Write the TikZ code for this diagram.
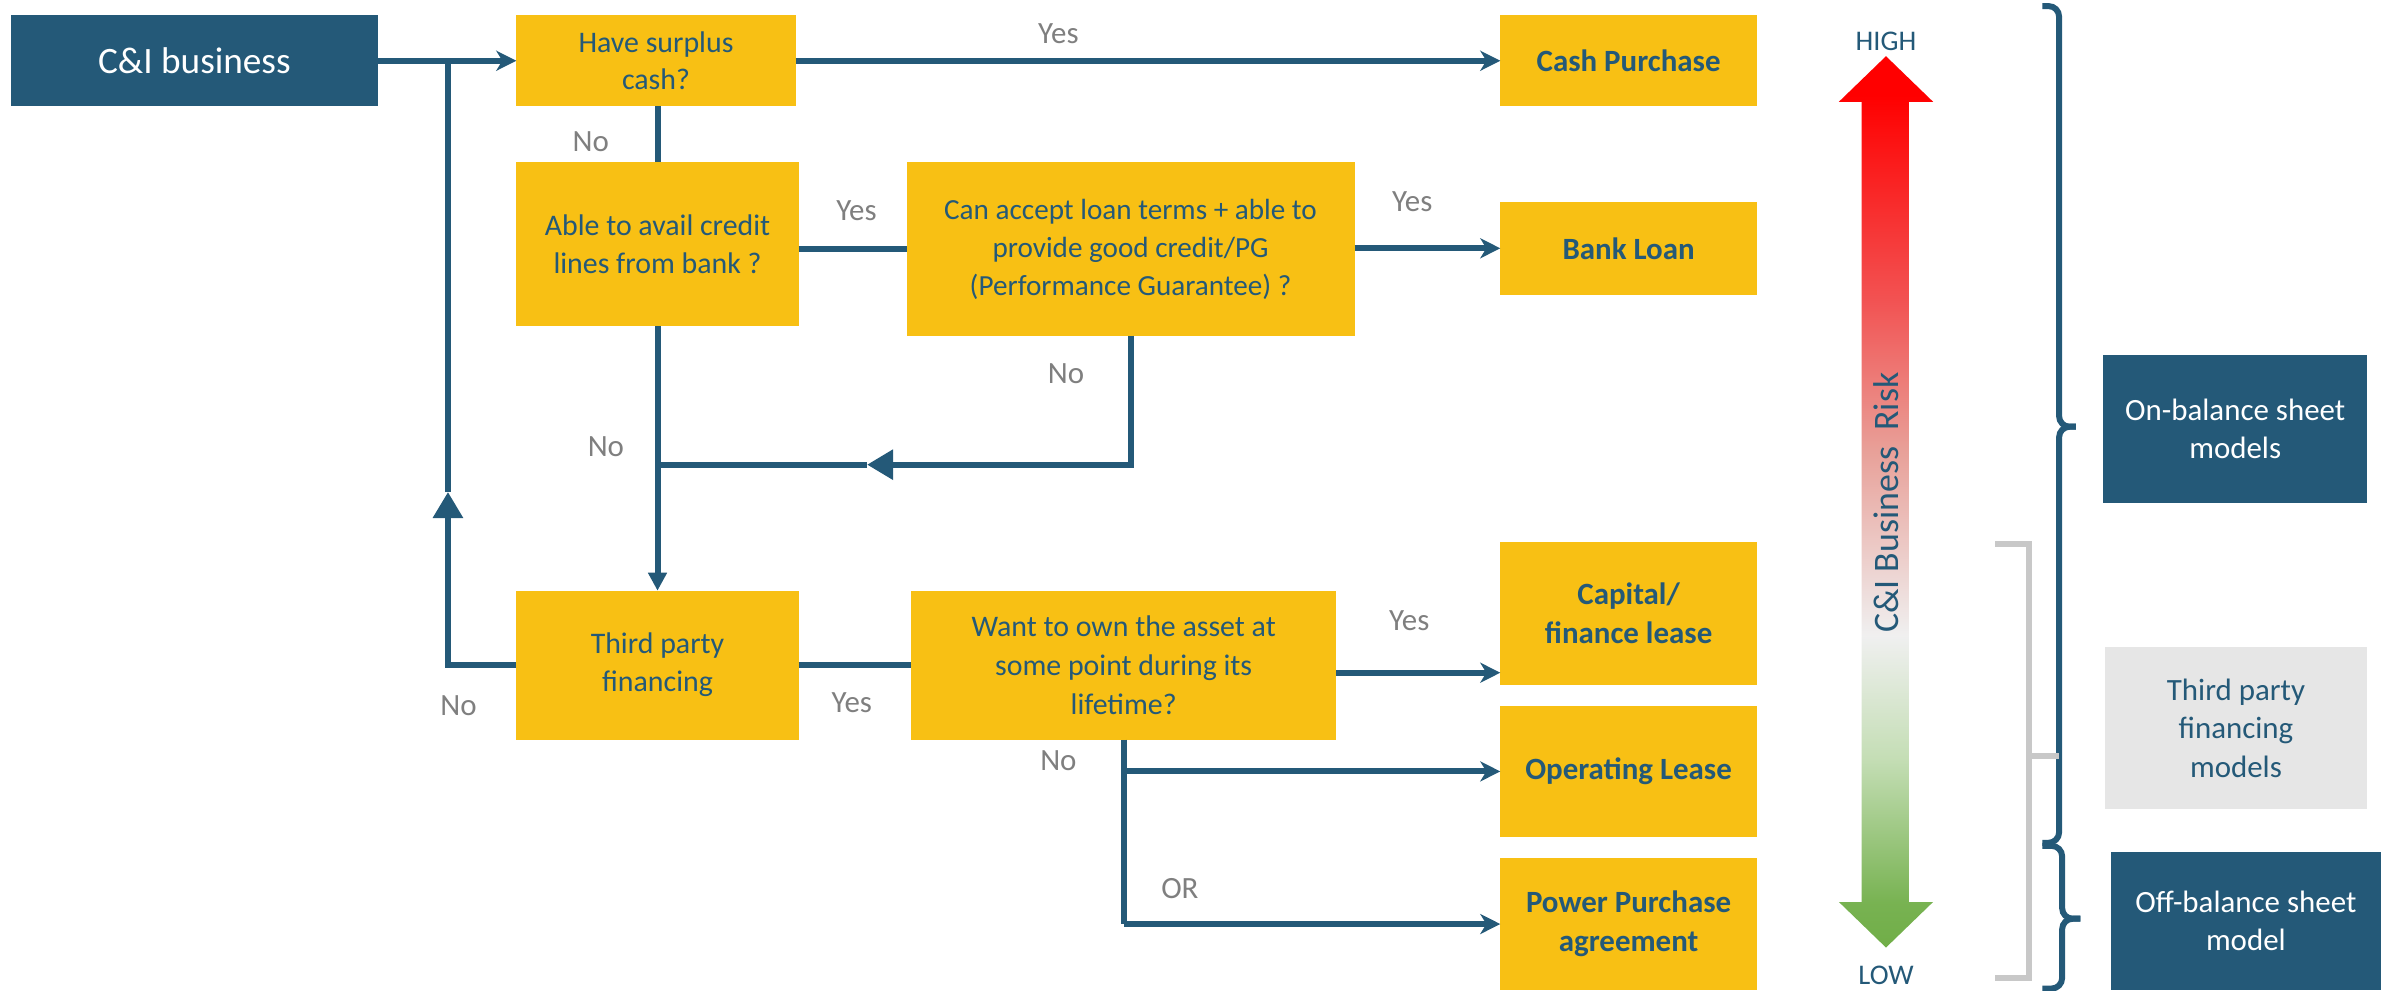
\documentclass[tikz,border=0pt]{standalone}
\usepackage{fontspec}
\setmainfont{Carlito}
\usetikzlibrary{arrows.meta,calc}
\definecolor{dblue}{RGB}{36,89,120}
\definecolor{ylw}{RGB}{248,192,20}
\definecolor{lblgray}{RGB}{127,127,127}
\definecolor{lgray}{RGB}{230,230,230}
\definecolor{bgray}{RGB}{200,200,200}
\pgfdeclareverticalshading{riskshade}{100bp}{rgb(0bp)=(0.44,0.68,0.28); rgb(25bp)=(0.44,0.68,0.28); rgb(27.5bp)=(0.47,0.70,0.32); rgb(35.6bp)=(0.77,0.87,0.71); rgb(42.5bp)=(0.94,0.94,0.94); rgb(52.8bp)=(0.91,0.63,0.60); rgb(61.4bp)=(0.95,0.32,0.32); rgb(72.8bp)=(1,0,0); rgb(100bp)=(1,0,0)}
\begin{document}
\begin{tikzpicture}[x=0.15185mm,y=-0.15185mm,
  span/.style n args={4}{at={({(#1+#3)/2},{(#2+#4)/2})}, minimum width={(#3-#1)*0.15185mm}, minimum height={(#4-#2)*0.15185mm}},
  conn/.style={draw=dblue, line width=1.7pt},
  sarr/.style={-{Stealth[length=2mm,width=2mm,inset=0.6mm]}},
  bigtri/.style={-{Triangle[length=2.6mm,width=2.9mm]}},
  smalltri/.style={-{Triangle[length=1.8mm,width=1.8mm]}},
  ybox/.style={rectangle, fill=ylw, text=dblue, inner sep=0pt, outer sep=0pt, align=center, font=\fontsize{8.5}{10.8}\selectfont},
  rbox/.style={ybox, font=\bfseries\fontsize{8.8}{11}\selectfont},
  dbox/.style={rectangle, fill=dblue, text=white, inner sep=0pt, outer sep=0pt, align=center},
  pbox/.style={font=\fontsize{8.8}{11}\selectfont},
  lbl/.style={text=lblgray, font=\fontsize{8.8}{10}\selectfont, inner sep=0pt},
  bracepath/.style={draw=dblue, line width=1.7pt, rounded corners=3pt},
  graypath/.style={draw=bgray, line width=1.7pt}
]
\useasboundingbox (0,0) rectangle (1568,652);

% flowchart boxes
\node[dbox, span={7}{10}{249}{70}, font=\fontsize{10.6}{12}\selectfont] (ci) {C\&I business};
\node[ybox, span={340}{10}{524}{70}] (surplus) {Have surplus\\cash?};
\node[rbox, span={988}{10}{1157}{70}] (cash) {Cash Purchase};
\node[ybox, span={340}{107}{526}{215}] (able) {Able to avail credit\\lines from bank ?};
\node[ybox, span={597}{107}{892}{221}, font=\fontsize{8.3}{10.8}\selectfont] (can) {Can accept loan terms + able to\\provide good credit/PG\\(Performance Guarantee) ?};
\node[rbox, span={988}{133}{1157}{194}] (bank) {Bank Loan};
\node[ybox, span={340}{389}{526}{487}] (tp) {Third party\\financing};
\node[ybox, span={600}{389}{880}{487}, font=\fontsize{8.5}{11.2}\selectfont] (want) {Want to own the asset at\\some point during its\\lifetime?};
\node[rbox, span={988}{357}{1157}{451}] (cap) {Capital/\\finance lease};
\node[rbox, span={988}{465}{1157}{551}] (op) {Operating Lease};
\node[rbox, span={988}{565}{1157}{652}] (ppa) {Power Purchase\\agreement};

% helper coordinates
\coordinate (uptip) at (295,324);
\coordinate (looptop) at (uptip |- ci.east);
\coordinate (lefttip) at (571,306);
\coordinate (retend) at (able.south |- lefttip);
\coordinate (wantout) at (880,443);
\coordinate (wantdown) at (want.south |- ppa.west);
\coordinate (wantop) at (want.south |- op.west);

% connectors
\draw[conn, sarr] (ci.east) -- (surplus.west);
\draw[conn, bigtri] (tp.west) -| (uptip);
\draw[conn] (uptip) -- (looptop);
\draw[conn, sarr] (surplus.east) -- (cash.west);
\draw[conn] (able.north |- surplus.south) -- (able.north);
\draw[conn] (able.east |- can.west) -- (can.west);
\draw[conn, sarr] (can.east |- bank.west) -- (bank.west);
\draw[conn, bigtri] (can.south) |- (lefttip);
\draw[conn] (lefttip) -- (retend);
\draw[conn, smalltri] (able.south) -- (able.south |- tp.north);
\draw[conn] (tp.east) -- (want.west);
\draw[conn, sarr] (wantout) -- (wantout -| cap.west);
\draw[conn] (want.south) -- (wantdown);
\draw[conn, sarr] (wantop) -- (op.west);
\draw[conn, sarr] (wantdown) -- (ppa.west);

% labels
\node[lbl] (l1) at (697,22) {Yes};
\node[lbl] (l2) at (389,93) {No};
\node[lbl] (l3) at (564,139) {Yes};
\node[lbl] (l4) at (930,133) {Yes};
\node[lbl] (l5) at (702,246) {No};
\node[lbl] (l6) at (399,294) {No};
\node[lbl] (l7) at (302,465) {No};
\node[lbl] (l8) at (561,463) {Yes};
\node[lbl] (l9) at (928,409) {Yes};
\node[lbl] (l10) at (697,501) {No};
\node[lbl] (l11) at (777,585) {OR};

% risk arrow
\shade[shading=riskshade] (1242,37) -- (1273,67) -- (1257,67) -- (1257,594) -- (1273,594) -- (1242,624) -- (1211,594) -- (1226,594) -- (1226,67) -- (1211,67) -- cycle;
\node[text=dblue, font=\fontsize{8.1}{9}\selectfont, inner sep=0pt] (high) at (1242,27) {HIGH};
\node[text=dblue, font=\fontsize{8.1}{9}\selectfont, inner sep=0pt] (low) at (1242,642) {LOW};
\node[text=dblue, rotate=90, font=\fontsize{10.2}{11}\selectfont, inner sep=0pt] (risk) at (1242,331) {C\&I Business\ \ Risk};

% braces
\draw[bracepath] (1345,4) -- (1356,4) -- (1356,281) -- (1367,281);
\draw[bracepath] (1367,281) -- (1356,281) -- (1356,555) -- (1345,555);
\draw[bracepath] (1345,557) -- (1358,557) -- (1358,605) -- (1370,605);
\draw[bracepath] (1370,605) -- (1358,605) -- (1358,651) -- (1345,651);
\draw[graypath] (1314,358) -- (1336,358) -- (1336,644) -- (1314,644);
\draw[graypath] (1336,498) -- (1356,498);

% right panels
\node[dbox, pbox, span={1385}{234}{1559}{331}] (onbal) {On-balance sheet\\models};
\node[dbox, pbox, fill=lgray, text=dblue, span={1386}{426}{1559}{533}] (tpm) {Third party\\financing\\models};
\node[dbox, pbox, span={1390}{561}{1568}{652}] (offbal) {Off-balance sheet\\model};
\end{tikzpicture}
\end{document}
